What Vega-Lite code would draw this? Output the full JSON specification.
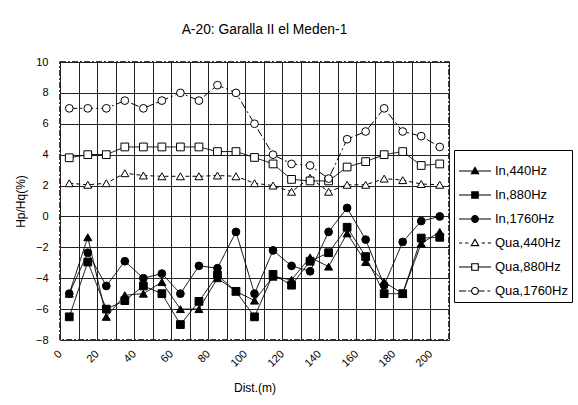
{
  "$schema": "https://vega.github.io/schema/vega-lite/v6.json",
  "width": 389,
  "height": 278,
  "autosize": {"type": "none"},
  "padding": {"left": 60, "top": 62, "right": 129, "bottom": 65},
  "background": "white",
  "title": {
    "text": "A-20: Garalla II el Meden-1",
    "anchor": "middle",
    "frame": "group",
    "dx": 10,
    "offset": 19,
    "font": "Liberation Sans",
    "fontSize": 13.8,
    "fontWeight": "normal",
    "color": "black"
  },
  "config": {
    "font": "Liberation Sans",
    "view": {"stroke": "black", "strokeWidth": 1.5, "strokeDash": [6, 2, 2, 2]},
    "axis": {
      "labelFont": "Liberation Sans",
      "labelFontSize": 11,
      "labelColor": "black",
      "titleFont": "Liberation Sans",
      "titleFontSize": 12,
      "titleFontWeight": "normal",
      "titleColor": "black",
      "domain": false,
      "ticks": false,
      "gridColor": "#222",
      "gridOpacity": 1,
      "gridWidth": 1
    }
  },
  "data": {
    "values": [
      {"d": 5, "s": "In,440Hz", "v": -5.0}, {"d": 15, "s": "In,440Hz", "v": -1.35}, {"d": 25, "s": "In,440Hz", "v": -6.5}, {"d": 35, "s": "In,440Hz", "v": -5.1}, {"d": 45, "s": "In,440Hz", "v": -5.0}, {"d": 55, "s": "In,440Hz", "v": -4.25}, {"d": 65, "s": "In,440Hz", "v": -6.0}, {"d": 75, "s": "In,440Hz", "v": -6.0}, {"d": 85, "s": "In,440Hz", "v": -4.0}, {"d": 95, "s": "In,440Hz", "v": -4.85}, {"d": 105, "s": "In,440Hz", "v": -5.45}, {"d": 115, "s": "In,440Hz", "v": -3.9}, {"d": 125, "s": "In,440Hz", "v": -4.1}, {"d": 135, "s": "In,440Hz", "v": -2.65}, {"d": 145, "s": "In,440Hz", "v": -3.25}, {"d": 155, "s": "In,440Hz", "v": -1.1}, {"d": 165, "s": "In,440Hz", "v": -2.95}, {"d": 175, "s": "In,440Hz", "v": -4.25}, {"d": 185, "s": "In,440Hz", "v": -5.0}, {"d": 195, "s": "In,440Hz", "v": -1.75}, {"d": 205, "s": "In,440Hz", "v": -1.0},
      {"d": 5, "s": "In,880Hz", "v": -6.5}, {"d": 15, "s": "In,880Hz", "v": -2.95}, {"d": 25, "s": "In,880Hz", "v": -6.0}, {"d": 35, "s": "In,880Hz", "v": -5.45}, {"d": 45, "s": "In,880Hz", "v": -4.5}, {"d": 55, "s": "In,880Hz", "v": -5.0}, {"d": 65, "s": "In,880Hz", "v": -7.0}, {"d": 75, "s": "In,880Hz", "v": -5.5}, {"d": 85, "s": "In,880Hz", "v": -3.8}, {"d": 95, "s": "In,880Hz", "v": -4.85}, {"d": 105, "s": "In,880Hz", "v": -6.5}, {"d": 115, "s": "In,880Hz", "v": -3.75}, {"d": 125, "s": "In,880Hz", "v": -4.45}, {"d": 135, "s": "In,880Hz", "v": -2.9}, {"d": 145, "s": "In,880Hz", "v": -2.35}, {"d": 155, "s": "In,880Hz", "v": -0.7}, {"d": 165, "s": "In,880Hz", "v": -2.6}, {"d": 175, "s": "In,880Hz", "v": -5.0}, {"d": 185, "s": "In,880Hz", "v": -5.0}, {"d": 195, "s": "In,880Hz", "v": -1.4}, {"d": 205, "s": "In,880Hz", "v": -1.35},
      {"d": 5, "s": "In,1760Hz", "v": -5.0}, {"d": 15, "s": "In,1760Hz", "v": -2.35}, {"d": 25, "s": "In,1760Hz", "v": -4.5}, {"d": 35, "s": "In,1760Hz", "v": -2.9}, {"d": 45, "s": "In,1760Hz", "v": -4.0}, {"d": 55, "s": "In,1760Hz", "v": -3.7}, {"d": 65, "s": "In,1760Hz", "v": -5.0}, {"d": 75, "s": "In,1760Hz", "v": -3.2}, {"d": 85, "s": "In,1760Hz", "v": -3.35}, {"d": 95, "s": "In,1760Hz", "v": -1.0}, {"d": 105, "s": "In,1760Hz", "v": -5.0}, {"d": 115, "s": "In,1760Hz", "v": -2.2}, {"d": 125, "s": "In,1760Hz", "v": -3.2}, {"d": 135, "s": "In,1760Hz", "v": -3.55}, {"d": 145, "s": "In,1760Hz", "v": -1.0}, {"d": 155, "s": "In,1760Hz", "v": 0.55}, {"d": 165, "s": "In,1760Hz", "v": -1.5}, {"d": 175, "s": "In,1760Hz", "v": -4.45}, {"d": 185, "s": "In,1760Hz", "v": -1.65}, {"d": 195, "s": "In,1760Hz", "v": -0.3}, {"d": 205, "s": "In,1760Hz", "v": 0.0},
      {"d": 5, "s": "Qua,440Hz", "v": 2.15}, {"d": 15, "s": "Qua,440Hz", "v": 2.05}, {"d": 25, "s": "Qua,440Hz", "v": 2.15}, {"d": 35, "s": "Qua,440Hz", "v": 2.8}, {"d": 45, "s": "Qua,440Hz", "v": 2.65}, {"d": 55, "s": "Qua,440Hz", "v": 2.6}, {"d": 65, "s": "Qua,440Hz", "v": 2.6}, {"d": 75, "s": "Qua,440Hz", "v": 2.6}, {"d": 85, "s": "Qua,440Hz", "v": 2.65}, {"d": 95, "s": "Qua,440Hz", "v": 2.6}, {"d": 105, "s": "Qua,440Hz", "v": 2.15}, {"d": 115, "s": "Qua,440Hz", "v": 2.0}, {"d": 125, "s": "Qua,440Hz", "v": 1.6}, {"d": 135, "s": "Qua,440Hz", "v": 2.5}, {"d": 145, "s": "Qua,440Hz", "v": 1.6}, {"d": 155, "s": "Qua,440Hz", "v": 2.05}, {"d": 165, "s": "Qua,440Hz", "v": 2.05}, {"d": 175, "s": "Qua,440Hz", "v": 2.45}, {"d": 185, "s": "Qua,440Hz", "v": 2.35}, {"d": 195, "s": "Qua,440Hz", "v": 2.1}, {"d": 205, "s": "Qua,440Hz", "v": 2.05},
      {"d": 5, "s": "Qua,880Hz", "v": 3.8}, {"d": 15, "s": "Qua,880Hz", "v": 4.0}, {"d": 25, "s": "Qua,880Hz", "v": 4.0}, {"d": 35, "s": "Qua,880Hz", "v": 4.5}, {"d": 45, "s": "Qua,880Hz", "v": 4.5}, {"d": 55, "s": "Qua,880Hz", "v": 4.5}, {"d": 65, "s": "Qua,880Hz", "v": 4.5}, {"d": 75, "s": "Qua,880Hz", "v": 4.5}, {"d": 85, "s": "Qua,880Hz", "v": 4.2}, {"d": 95, "s": "Qua,880Hz", "v": 4.2}, {"d": 105, "s": "Qua,880Hz", "v": 3.82}, {"d": 115, "s": "Qua,880Hz", "v": 3.4}, {"d": 125, "s": "Qua,880Hz", "v": 2.4}, {"d": 135, "s": "Qua,880Hz", "v": 2.3}, {"d": 145, "s": "Qua,880Hz", "v": 2.3}, {"d": 155, "s": "Qua,880Hz", "v": 3.2}, {"d": 165, "s": "Qua,880Hz", "v": 3.55}, {"d": 175, "s": "Qua,880Hz", "v": 4.0}, {"d": 185, "s": "Qua,880Hz", "v": 4.2}, {"d": 195, "s": "Qua,880Hz", "v": 3.3}, {"d": 205, "s": "Qua,880Hz", "v": 3.4},
      {"d": 5, "s": "Qua,1760Hz", "v": 7.0}, {"d": 15, "s": "Qua,1760Hz", "v": 7.0}, {"d": 25, "s": "Qua,1760Hz", "v": 7.0}, {"d": 35, "s": "Qua,1760Hz", "v": 7.5}, {"d": 45, "s": "Qua,1760Hz", "v": 7.0}, {"d": 55, "s": "Qua,1760Hz", "v": 7.5}, {"d": 65, "s": "Qua,1760Hz", "v": 8.0}, {"d": 75, "s": "Qua,1760Hz", "v": 7.5}, {"d": 85, "s": "Qua,1760Hz", "v": 8.5}, {"d": 95, "s": "Qua,1760Hz", "v": 8.0}, {"d": 105, "s": "Qua,1760Hz", "v": 6.0}, {"d": 115, "s": "Qua,1760Hz", "v": 4.0}, {"d": 125, "s": "Qua,1760Hz", "v": 3.4}, {"d": 135, "s": "Qua,1760Hz", "v": 3.3}, {"d": 145, "s": "Qua,1760Hz", "v": 2.45}, {"d": 155, "s": "Qua,1760Hz", "v": 5.0}, {"d": 165, "s": "Qua,1760Hz", "v": 5.5}, {"d": 175, "s": "Qua,1760Hz", "v": 7.0}, {"d": 185, "s": "Qua,1760Hz", "v": 5.5}, {"d": 195, "s": "Qua,1760Hz", "v": 5.2}, {"d": 205, "s": "Qua,1760Hz", "v": 4.5}
    ]
  },
  "encoding": {
    "x": {
      "field": "d",
      "type": "quantitative",
      "scale": {"domain": [0, 210], "nice": false, "zero": false},
      "axis": {
        "title": "Dist.(m)",
        "values": [0, 10, 20, 30, 40, 50, 60, 70, 80, 90, 100, 110, 120, 130, 140, 150, 160, 170, 180, 190, 200, 210],
        "labelExpr": "datum.value % 20 == 0 && datum.value <= 200 ? datum.label : ''",
        "labelAngle": -45,
        "labelAlign": "right",
        "labelBaseline": "middle",
        "labelPadding": 12,
        "labelOverlap": false,
        "labelBound": false,
        "labelFlush": false,
        "titleY": 47,
        "titleBaseline": "middle",
        "grid": true
      }
    },
    "y": {
      "field": "v",
      "type": "quantitative",
      "scale": {"domain": [-8, 10], "nice": false, "zero": false},
      "axis": {
        "title": "Hp/Hq(%)",
        "values": [-8, -6, -4, -2, 0, 2, 4, 6, 8, 10],
        "labelPadding": 12,
        "labelFlush": false,
        "titleX": -40,
        "titleY": 139,
        "titleAngle": -90,
        "titleAlign": "center",
        "titleBaseline": "middle",
        "grid": true
      }
    }
  },
  "layer": [
    {
      "mark": {"type": "line", "color": "black", "strokeWidth": 1},
      "encoding": {
        "strokeDash": {
          "field": "s",
          "type": "nominal",
          "scale": {
            "domain": ["Qua,1760Hz", "Qua,880Hz", "Qua,440Hz", "In,1760Hz", "In,880Hz", "In,440Hz"],
            "range": [[8, 3, 2, 3], [1, 0], [4, 3], [1, 0], [1, 0], [1, 0]]
          },
          "legend": null
        }
      }
    },
    {
      "transform": [{"filter": "indexof(datum.s, ',440Hz') >= 0"}],
      "mark": {"type": "point", "shape": "triangle-up", "filled": true, "stroke": "black", "strokeWidth": 1, "size": 64, "opacity": 1},
      "encoding": {
        "fill": {
          "field": "s",
          "type": "nominal",
          "scale": {
            "domain": ["Qua,440Hz", "Qua,880Hz", "Qua,1760Hz", "In,440Hz", "In,880Hz", "In,1760Hz"],
            "range": ["white", "white", "white", "black", "black", "black"]
          },
          "legend": null
        }
      }
    },
    {
      "transform": [{"filter": "indexof(datum.s, ',880Hz') >= 0"}],
      "mark": {"type": "point", "shape": "square", "filled": true, "stroke": "black", "strokeWidth": 1, "size": 60, "opacity": 1},
      "encoding": {
        "fill": {
          "field": "s",
          "type": "nominal",
          "scale": {
            "domain": ["Qua,440Hz", "Qua,880Hz", "Qua,1760Hz", "In,440Hz", "In,880Hz", "In,1760Hz"],
            "range": ["white", "white", "white", "black", "black", "black"]
          },
          "legend": null
        }
      }
    },
    {
      "transform": [{"filter": "indexof(datum.s, ',1760Hz') >= 0"}],
      "mark": {"type": "point", "shape": "circle", "filled": true, "stroke": "black", "strokeWidth": 1, "size": 60, "opacity": 1},
      "encoding": {
        "fill": {
          "field": "s",
          "type": "nominal",
          "scale": {
            "domain": ["Qua,440Hz", "Qua,880Hz", "Qua,1760Hz", "In,440Hz", "In,880Hz", "In,1760Hz"],
            "range": ["white", "white", "white", "black", "black", "black"]
          },
          "legend": null
        }
      }
    },
    {
      "mark": {"type": "point", "filled": true, "color": "black", "opacity": 0, "size": 10},
      "encoding": {
        "shape": {
          "field": "s",
          "type": "nominal",
          "scale": {
            "domain": ["In,440Hz", "In,880Hz", "In,1760Hz", "Qua,440Hz", "Qua,880Hz", "Qua,1760Hz"],
            "range": [
              "M-1,-0.035L-0.17,-0.035L-0.17,0.035L-1,0.035ZM0.17,-0.035L1,-0.035L1,0.035L0.17,0.035ZM0,-0.3L0.29,0.2L-0.29,0.2Z",
              "M-1,-0.035L-0.24,-0.035L-0.24,0.035L-1,0.035ZM0.24,-0.035L1,-0.035L1,0.035L0.24,0.035ZM-0.24,-0.24L0.24,-0.24L0.24,0.24L-0.24,0.24Z",
              "M-1,-0.035L-0.25,-0.035L-0.25,0.035L-1,0.035ZM0.25,-0.035L1,-0.035L1,0.035L0.25,0.035ZM-0.25,0A0.25,0.25,0,1,1,0.25,0A0.25,0.25,0,1,1,-0.25,0Z",
              "M-1,-0.035L-0.8,-0.035L-0.8,0.035L-1,0.035ZM-0.62,-0.035L-0.42,-0.035L-0.42,0.035L-0.62,0.035ZM0.42,-0.035L0.62,-0.035L0.62,0.035L0.42,0.035ZM0.8,-0.035L1,-0.035L1,0.035L0.8,0.035ZM0,-0.3L0.29,0.2L-0.29,0.2ZM0,-0.16L-0.168,0.13L0.168,0.13Z",
              "M-1,-0.035L-0.24,-0.035L-0.24,0.035L-1,0.035ZM0.24,-0.035L1,-0.035L1,0.035L0.24,0.035ZM-0.24,-0.24L0.24,-0.24L0.24,0.24L-0.24,0.24ZM-0.17,-0.17L-0.17,0.17L0.17,0.17L0.17,-0.17Z",
              "M-1,-0.035L-0.55,-0.035L-0.55,0.035L-1,0.035ZM-0.42,-0.035L-0.27,-0.035L-0.27,0.035L-0.42,0.035ZM0.25,-0.035L0.6,-0.035L0.6,0.035L0.25,0.035ZM0.78,-0.035L0.95,-0.035L0.95,0.035L0.78,0.035ZM-0.25,0A0.25,0.25,0,1,1,0.25,0A0.25,0.25,0,1,1,-0.25,0ZM-0.18,0A0.18,0.18,0,1,0,0.18,0A0.18,0.18,0,1,0,-0.18,0Z"
            ]
          },
          "legend": {
            "title": null,
            "orient": "none",
            "legendX": 394,
            "legendY": 88,
            "padding": 4,
            "strokeColor": "black",
            "fillColor": "white",
            "symbolSize": 1024,
            "symbolOpacity": 1,
            "symbolFillColor": "black",
            "labelFont": "Liberation Sans",
            "labelFontSize": 13,
            "labelColor": "black",
            "labelOffset": 3,
            "rowPadding": -8.5
          }
        }
      }
    }
  ]
}
